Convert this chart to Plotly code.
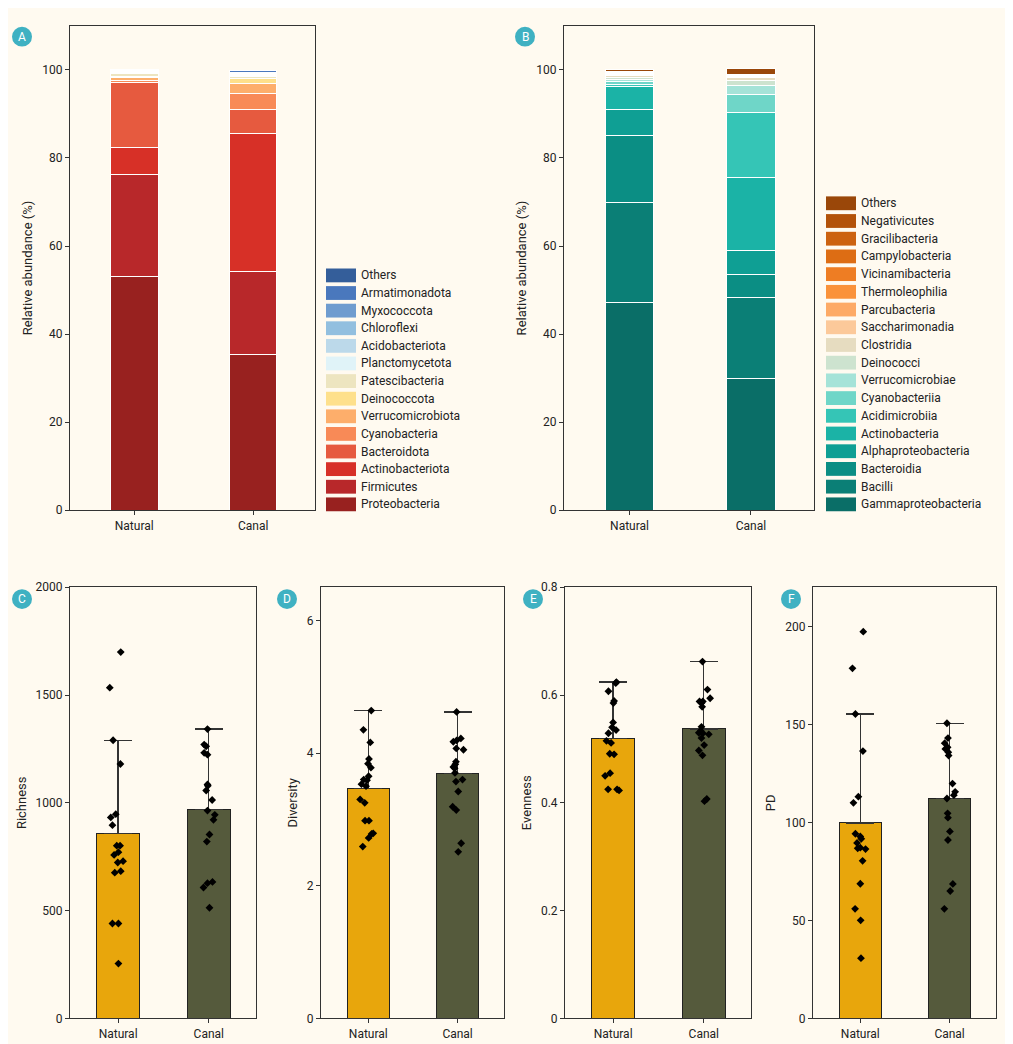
import plotly.graph_objects as go

# ---- Panel A: phylum composition ----
phylum_names = ['Proteobacteria', 'Firmicutes', 'Actinobacteriota', 'Bacteroidota', 'Cyanobacteria',
                'Verrucomicrobiota', 'Deinococcota', 'Patescibacteria', 'Planctomycetota',
                'Acidobacteriota', 'Chloroflexi', 'Myxococcota', 'Armatimonadota', 'Others']
phylum_colors = ['#98211f', '#b8282a', '#d73027', '#e65a3f', '#f88a57', '#fdae6b', '#fee08b',
                 '#ede5c0', '#e0f3f8', '#bcd9ea', '#92bfdf', '#6f9ccf', '#4a78bd', '#345e9a']
phylum_natural = [53.0, 23.2, 6.1, 14.8, 0.6, 0.5, 0.4, 0.5, 0.3, 0.2, 0.1, 0.1, 0.1, 0.2]
phylum_canal = [35.4, 18.9, 31.3, 5.4, 3.7, 2.2, 1.2, 0.4, 0.3, 0.2, 0.2, 0.1, 0.5, 0.1]

# ---- Panel B: class composition ----
class_names = ['Gammaproteobacteria', 'Bacilli', 'Bacteroidia', 'Alphaproteobacteria', 'Actinobacteria',
               'Acidimicrobiia', 'Cyanobacteriia', 'Verrucomicrobiae', 'Deinococci', 'Clostridia',
               'Saccharimonadia', 'Parcubacteria', 'Thermoleophilia', 'Vicinamibacteria',
               'Campylobacteria', 'Gracilibacteria', 'Negativicutes', 'Others']
class_colors = ['#0a6e67', '#0b7f76', '#0b8e84', '#0f9f94', '#1bb3a6', '#35c5b6', '#6fd6c8', '#a5e3d8',
                '#cde3cf', '#e6dcc0', '#fcc99a', '#fdaa66', '#fa923a', '#ee7d23', '#dd6d14', '#cc6210',
                '#b35209', '#9a4709']
class_natural = [47.2, 22.8, 15.0, 6.0, 5.2, 0.5, 0.6, 0.5, 0.4, 0.5, 0.3, 0.2, 0.1, 0.1, 0.1, 0.1, 0.1, 0.3]
class_canal = [30.0, 18.3, 5.2, 5.6, 16.5, 14.7, 4.0, 2.2, 1.1, 0.6, 0.1, 0.1, 0.1, 0.1, 0.1, 0.1, 0.1, 1.4]

groups = ['Natural', 'Canal']

# ---- Panels C-F: alpha diversity (bar = mean, error = upper SD) ----
rich_mean = [859, 970]
rich_err = [431, 372]
rich_nat = [1699, 1534, 1290, 1180, 947, 932, 896, 801, 801, 771, 758, 729, 723, 683, 676, 440, 440, 254]
rich_nat_jit = [8, -25, -15, 7, -7, -22, -17, -4, 6, 1, -12, 15, -1, 8, -10, -17, 1, 1]
rich_can = [1342, 1270, 1262, 1232, 1223, 1085, 1079, 1057, 1013, 964, 944, 921, 853, 820, 633, 627, 607, 513]
rich_can_jit = [-4, -14, -8, -14, -4, -4, -3, -8, 10, -4, 18, 14, 2, -6, 11, -4, -16, 2]

div_mean = [3.47, 3.69]
div_err = [1.17, 0.93]
div_nat = [4.64, 4.35, 4.16, 3.91, 3.84, 3.78, 3.65, 3.60, 3.59, 3.53, 3.50, 3.30, 3.25, 2.98, 2.98, 2.79, 2.78, 2.72, 2.59]
div_nat_jit = [9, -15, 6, 2, -1, 8, 1, -14, -4, -21, -7, -25, -11, -10, 2, 15, 10, 1, -17]
div_can = [4.62, 4.22, 4.19, 4.17, 4.07, 4.05, 3.87, 3.83, 3.79, 3.77, 3.70, 3.60, 3.57, 3.42, 3.19, 3.14, 2.64, 2.51]
div_can_jit = [-3, 10, -3, -13, -4, 18, -5, -7, -13, -9, -8, 15, -5, 2, -15, -4, 11, 2]

even_mean = [0.519, 0.537]
even_err = [0.105, 0.125]
even_nat = [0.624, 0.622, 0.607, 0.589, 0.585, 0.549, 0.540, 0.535, 0.529, 0.515, 0.511, 0.491, 0.490, 0.455, 0.450, 0.425, 0.425, 0.423]
even_nat_jit = [10, 8, -14, 3, 1, 0, -3, 9, -14, -20, -6, -10, 3, -9, -24, -15, 12, 18]
even_can = [0.662, 0.610, 0.594, 0.588, 0.588, 0.585, 0.578, 0.541, 0.533, 0.530, 0.529, 0.527, 0.520, 0.507, 0.497, 0.488, 0.407, 0.403]
even_can_jit = [-4, 11, 19, -13, -3, -7, -5, -7, -9, -15, -3, 15, -7, 1, -15, -4, 9, 2]

pd_mean = [99.7, 112.2]
pd_err = [55.6, 38.4]
pd_nat = [197.3, 178.6, 155.3, 136.4, 113.1, 110.0, 94.2, 92.8, 91.6, 89.5, 87.1, 86.8, 86.4, 80.4, 68.7, 55.9, 50.0, 30.7]
pd_nat_jit = [9, -24, -15, 8, -6, -21, -15, 0, 3, -10, 0, -8, 16, 7, 0, -16, 1, 2]
pd_can = [150.6, 143.0, 140.4, 138.3, 137.5, 135.8, 134.1, 119.8, 115.6, 113.9, 112.2, 104.6, 102.4, 95.4, 91.0, 68.6, 65.0, 55.9]
pd_can_jit = [-8, -5, -15, -6, -13, -4, -3, 9, 17, 13, -8, -6, -5, 1, -5, 10, 2, -16]

BG = '#fffaf0'
BAR_COLORS = ['#e8a60c', '#555a3c']
FONT = 'Roboto'

fig = go.Figure()


def stacked(names, colors, nat, can, ax):
    for i, name in enumerate(names):
        fig.add_trace(go.Bar(x=[0, 1], y=[nat[i], can[i]], name=name, width=0.4,
                             marker=dict(color=colors[i], line=dict(color='white', width=1)),
                             xaxis='x' + ax, yaxis='y' + ax, showlegend=False))


stacked(phylum_names, phylum_colors, phylum_natural, phylum_canal, '')
stacked(class_names, class_colors, class_natural, class_canal, '2')

alpha_panels = [
    ('3', rich_mean, rich_err, rich_nat, rich_nat_jit, rich_can, rich_can_jit),
    ('4', div_mean, div_err, div_nat, div_nat_jit, div_can, div_can_jit),
    ('5', even_mean, even_err, even_nat, even_nat_jit, even_can, even_can_jit),
    ('6', pd_mean, pd_err, pd_nat, pd_nat_jit, pd_can, pd_can_jit),
]
for ax, mean, err, nat, nat_j, can, can_j in alpha_panels:
    fig.add_trace(go.Bar(x=[0, 1], y=mean, width=0.47, showlegend=False,
                         marker=dict(color=BAR_COLORS, line=dict(color='#222222', width=1)),
                         error_y=dict(type='data', array=err, arrayminus=[0, 0], color='#333333',
                                      thickness=1.2, width=14),
                         xaxis='x' + ax, yaxis='y' + ax))
    xs = [j / 273 for j in nat_j] + [1 + j / 273 for j in can_j]
    fig.add_trace(go.Scatter(x=xs, y=nat + can, mode='markers', showlegend=False,
                             marker=dict(symbol='diamond', size=6, color='black'),
                             xaxis='x' + ax, yaxis='y' + ax))

W, H = 1013, 1044


def px(x0, x1):
    return [x0 / W, x1 / W]


def py(y0, y1):
    return [1 - y1 / H, 1 - y0 / H]


axis_common = dict(showline=True, linecolor='#333333', linewidth=1, mirror=True, ticks='outside',
                   ticklen=4, tickcolor='#333333', showgrid=False, zeroline=False,
                   tickfont=dict(size=12, color='#222222'))
xcat = dict(tickvals=[0, 1], ticktext=groups, **axis_common)

layout_axes = {}
specs = [
    ('', (62, 307), (11, 502), [-0.54, 1.52], [0, 110], 20, 'Relative abundance (%)'),
    ('2', (556, 806), (11, 502), [-0.54, 1.52], [0, 110], 20, 'Relative abundance (%)'),
    ('3', (62, 248), (580, 1017), [-0.53, 1.52], [0, 2000], 500, 'Richness'),
    ('4', (313, 496), (580, 1017), [-0.53, 1.52], [0, 6.5], 2, 'Diversity'),
    ('5', (557, 743), (580, 1017), [-0.53, 1.52], [0, 0.8], 0.2, 'Evenness'),
    ('6', (805, 988), (580, 1017), [-0.53, 1.52], [0, 220], 50, 'PD'),
]
for ax, xd, yd, xr, yr, dt, title in specs:
    layout_axes['xaxis' + ax] = dict(domain=px(*xd), range=xr, anchor='y' + ax, **xcat)
    layout_axes['yaxis' + ax] = dict(domain=py(*yd), range=yr, dtick=dt, anchor='x' + ax,
                                     title=dict(text=title, font=dict(size=13, color='#222222'), standoff=6),
                                     **axis_common)

fig.update_layout(barmode='stack', width=W, height=H, paper_bgcolor=BG, plot_bgcolor=BG,
                  font=dict(family=FONT, color='#222222'),
                  margin=dict(l=0, r=0, t=0, b=0), **layout_axes)
fig.update_layout(xaxis3_type='linear')
for ax in ['3', '4', '5', '6']:
    fig.layout['yaxis' + ax].update(dict())
fig.update_layout(barmode='stack')

shapes = []
annotations = []


def legend(names, colors, x, y_bottom, step):
    n = len(names)
    for i in range(n):
        yc = y_bottom - i * step
        shapes.append(dict(type='rect', xref='paper', yref='paper',
                           x0=x / W, x1=(x + 30) / W, y0=1 - (yc + 7) / H, y1=1 - (yc - 7) / H,
                           fillcolor=colors[i], line=dict(width=0)))
        annotations.append(dict(text=names[i], xref='paper', yref='paper', x=(x + 33) / W, y=1 - yc / H,
                                xanchor='left', yanchor='middle', showarrow=False,
                                font=dict(size=12, color='#222222')))


legend(phylum_names, phylum_colors, 318, 496, 17.85)
legend(class_names, class_colors, 818, 496, 17.95)

for label, cx, cy in [('A', 14, 22), ('B', 517, 22), ('C', 14, 592), ('D', 279, 592), ('E', 525, 592), ('F', 783, 592)]:
    shapes.append(dict(type='circle', xref='paper', yref='paper', x0=(cx - 10) / W, x1=(cx + 10) / W,
                       y0=1 - (cy + 10) / H, y1=1 - (cy - 10) / H, fillcolor='#3fb1c2', line=dict(width=0)))
    annotations.append(dict(text=label, xref='paper', yref='paper', x=cx / W, y=1 - cy / H,
                            xanchor='center', yanchor='middle', showarrow=False,
                            font=dict(size=12, color='white')))

fig.update_layout(shapes=shapes, annotations=annotations)

fig.write_html("out.html")
